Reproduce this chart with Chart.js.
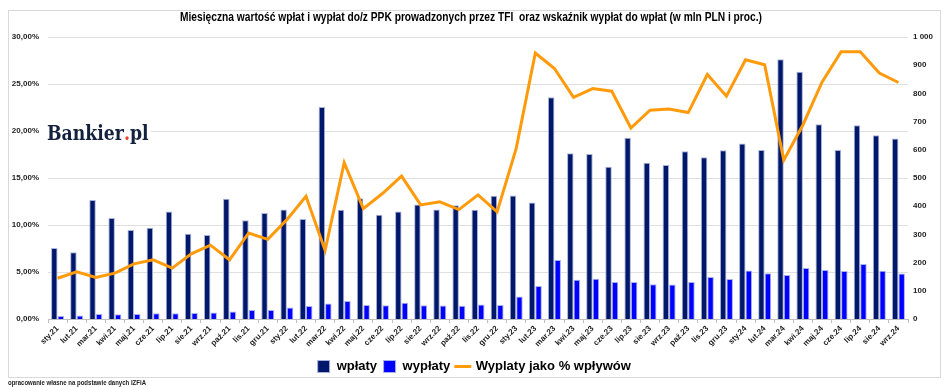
<!DOCTYPE html>
<html>
<head>
<meta charset="utf-8">
<script src="https://cdn.jsdelivr.net/npm/chart.js@4.4.0/dist/chart.umd.min.js"></script>
<style>
  html, body { margin: 0; padding: 0; background: #fff; }
  #wrap { width: 948px; height: 387px; }
</style>
</head>
<body>
<div id="wrap"><canvas id="ppkChart" width="948" height="387"></canvas></div>
<script>
// miesiace sty.21 - wrz.24
const months = [
  'sty.21','lut.21','mar.21','kwi.21','maj.21','cze.21','lip.21','sie.21','wrz.21','paź.21','lis.21','gru.21',
  'sty.22','lut.22','mar.22','kwi.22','maj.22','cze.22','lip.22','sie.22','wrz.22','paź.22','lis.22','gru.22',
  'sty.23','lut.23','mar.23','kwi.23','maj.23','cze.23','lip.23','sie.23','wrz.23','paź.23','lis.23','gru.23',
  'sty.24','lut.24','mar.24','kwi.24','maj.24','cze.24','lip.24','sie.24','wrz.24'
];

// wplaty (mln PLN)
const wplaty = [
  252, 237, 422, 358, 316, 324, 381, 302, 298, 426, 350, 376,
  388, 355, 752, 387, 428, 370, 381, 406, 388, 403, 387, 437,
  438, 413, 786, 588, 585, 540, 643, 554, 546, 595, 574, 598,
  622, 599, 921, 877, 691, 599, 687, 652, 640
];

// wyplaty (mln PLN)
const wyplaty = [
  11, 12, 18, 17, 18, 20, 20, 21, 23, 27, 32, 32,
  41, 46, 55, 64, 50, 49, 58, 49, 48, 47, 51, 50,
  80, 117, 209, 139, 143, 131, 131, 123, 122, 131, 149, 142,
  172, 162, 156, 181, 174, 170, 195, 171, 161
];

// wyplaty jako % wplywow
const wskaznik = [
  4.34, 5.02, 4.41, 4.88, 5.87, 6.30, 5.41, 6.94, 7.86, 6.30, 9.15, 8.47,
  10.57, 13.06, 7.30, 16.62, 11.74, 13.35, 15.20, 12.14, 12.46, 11.64, 13.20, 11.39,
  18.15, 28.29, 26.65, 23.59, 24.52, 24.23, 20.32, 22.21, 22.35, 21.96, 26.01, 23.70,
  27.58, 27.05, 16.90, 20.64, 25.20, 28.43, 28.43, 26.16, 25.16
];

const titleText = 'Miesięczna wartość wpłat i wypłat do/z PPK prowadzonych przez TFI  oraz wskaźnik wypłat do wpłat (w mln PLN i proc.)';
const footText = 'opracowanie własne na podstawie danych IZFiA';

const FONT = '"Liberation Sans", Arial, sans-serif';

// tekst o zadanej wysokosci czcionki sciesniony do szerokosci
function drawSqueezed(ctx, text, font, x, y, width, align) {
  ctx.font = font;
  const w = ctx.measureText(text).width;
  const sx = Math.min(1, width / w);
  ctx.save();
  ctx.translate(x, y);
  ctx.scale(sx, 1);
  ctx.textAlign = align;
  ctx.fillText(text, 0, 0);
  ctx.restore();
}

const decorations = {
  id: 'decorations',
  beforeDraw(chart) {
    const ctx = chart.ctx;
    ctx.save();
    ctx.fillStyle = '#fff';
    ctx.fillRect(0, 0, chart.width, chart.height);
    ctx.strokeStyle = '#d9d9d9';
    ctx.lineWidth = 1;
    ctx.strokeRect(8.5, 10.5, 932, 367);
    ctx.restore();
  },
  beforeDatasetsDraw(chart) {
    // logo Bankier.pl (biale tlo zaslania linie siatki)
    const ctx = chart.ctx;
    ctx.save();
    ctx.fillStyle = '#fff';
    ctx.fillRect(45, 120, 106, 27);
    const serif = '"DejaVu Serif", "Liberation Serif", serif';
    ctx.font = 'bold 20px ' + serif;
    const wB = ctx.measureText('Bankier').width;
    const wDot = ctx.measureText('.').width;
    const wAll = ctx.measureText('Bankier.pl').width;
    ctx.translate(47, 140);
    ctx.scale(100 / wAll, 1);
    ctx.textBaseline = 'alphabetic';
    ctx.textAlign = 'left';
    ctx.fillStyle = '#13213f';
    ctx.fillText('Bankier', 0, 0);
    ctx.fillStyle = '#e8462f';
    ctx.fillText('.', wB, 0);
    ctx.fillStyle = '#13213f';
    ctx.fillText('pl', wB + wDot, 0);
    ctx.restore();
  },
  afterDraw(chart) {
    const ctx = chart.ctx;
    ctx.save();
    ctx.fillStyle = '#000';
    ctx.textBaseline = 'middle';
    drawSqueezed(ctx, titleText, 'bold 12px ' + FONT, 471, 18, 582, 'center');
    ctx.fillStyle = '#222';
    drawSqueezed(ctx, footText, 'bold 7px ' + FONT, 8, 383, 138, 'left');
    ctx.restore();
  }
};

const ctx = document.getElementById('ppkChart').getContext('2d');

new Chart(ctx, {
  type: 'bar',
  data: {
    labels: months,
    datasets: [
      {
        label: 'wpłaty',
        data: wplaty,
        yAxisID: 'yVal',
        backgroundColor: '#00186a',
        borderColor: '#a9b0dc',
        borderWidth: 1,
        categoryPercentage: 0.68,
        barPercentage: 1.0,
        pointStyle: 'rect',
        order: 1
      },
      {
        label: 'wypłaty',
        data: wyplaty,
        yAxisID: 'yVal',
        backgroundColor: '#0000ff',
        borderColor: '#a9b0ee',
        borderWidth: 1,
        categoryPercentage: 0.68,
        barPercentage: 1.0,
        pointStyle: 'rect',
        order: 1
      },
      {
        type: 'line',
        label: 'Wyplaty jako % wpływów',
        data: wskaznik,
        yAxisID: 'yPct',
        borderColor: '#ff9a0a',
        backgroundColor: '#ff9a0a',
        borderWidth: 3,
        pointRadius: 0,
        pointStyle: 'line',
        tension: 0,
        order: 0
      }
    ]
  },
  options: {
    responsive: false,
    animation: false,
    layout: { padding: { left: 8, right: 8, top: 37, bottom: 4 } },
    plugins: {
      title: { display: false },
      tooltip: { enabled: false },
      legend: {
        position: 'bottom',
        labels: {
          usePointStyle: true,
          boxHeight: 12,
          padding: 6,
          color: '#000',
          font: { family: FONT, size: 13, weight: 'bold' },
          sort: (a, b) => a.datasetIndex - b.datasetIndex
        }
      }
    },
    scales: {
      x: {
        grid: { display: true, drawOnChartArea: false, drawTicks: true, tickLength: 4, offset: true, color: '#bfbfbf' },
        border: { color: '#bfbfbf' },
        ticks: {
          autoSkip: false,
          minRotation: 45,
          maxRotation: 45,
          padding: 1,
          color: '#222',
          font: { family: FONT, size: 8, weight: 'bold' }
        },
        afterFit(scale) { scale.height = 35; }
      },
      yPct: {
        position: 'left',
        min: 0,
        max: 30,
        grid: { color: '#e0e0e0', drawTicks: false },
        border: { display: false },
        ticks: {
          stepSize: 5,
          padding: 9,
          color: '#222',
          font: { family: FONT, size: 8, weight: 'bold' },
          callback: v => v.toFixed(2).replace('.', ',') + '%'
        },
        afterFit(scale) { scale.width = 40; }
      },
      yVal: {
        position: 'right',
        min: 0,
        max: 1000,
        grid: { display: false, drawTicks: false },
        border: { display: false },
        ticks: {
          stepSize: 100,
          padding: 5,
          color: '#222',
          font: { family: FONT, size: 8, weight: 'bold' },
          callback: v => String(v).replace(/\B(?=(\d{3})+(?!\d))/g, ' ')
        },
        afterFit(scale) { scale.width = 32; }
      }
    }
  },
  plugins: [decorations]
});
</script>
</body>
</html>
